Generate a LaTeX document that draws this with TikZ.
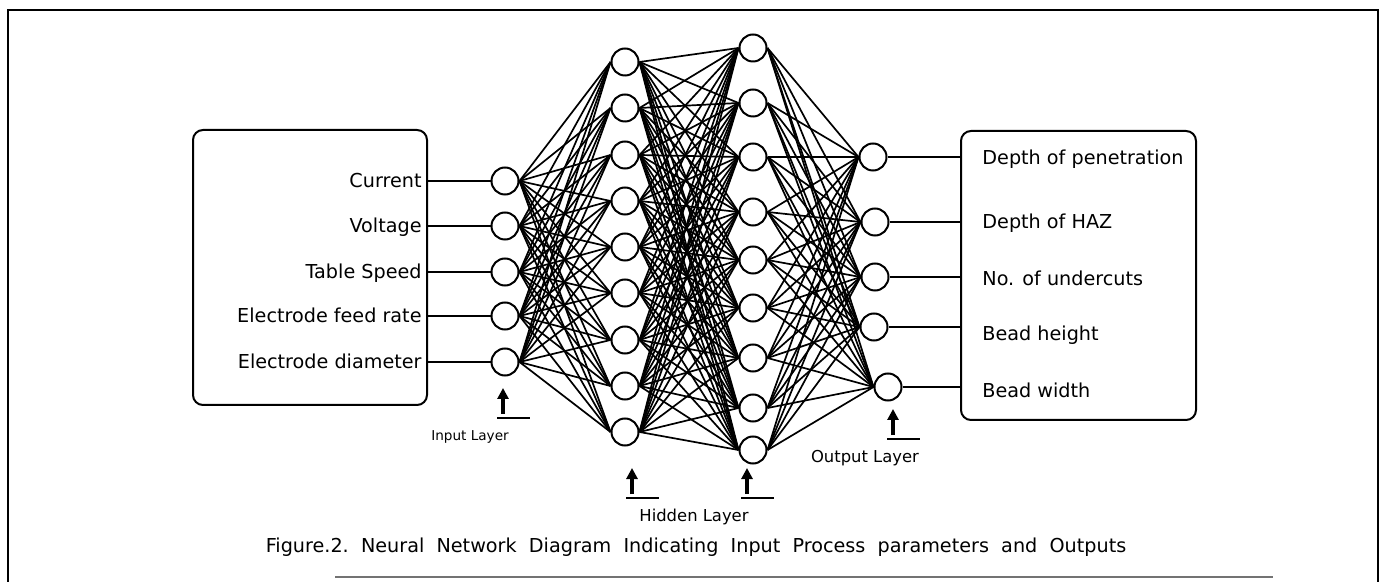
\documentclass[tikz,border=0pt]{standalone}
\usepackage{fontspec}
\setmainfont{DejaVu Sans}
\usetikzlibrary{arrows.meta}

\tikzset{
  neuron/.style={circle, draw, line width=1pt, fill=white, minimum size=13.5pt, inner sep=0pt},
  link/.style={line width=0.85pt},
  databox/.style={draw, line width=1pt, rounded corners=5pt},
  boxtext/.style={inner sep=0pt, font=\fontsize{9.6}{11}\selectfont},
  layertext/.style={inner sep=0pt, font=\fontsize{8.2}{10}\selectfont},
  layerarrow/.style={line width=1.6pt, -{Triangle[length=5.5pt,width=5.5pt]}},
}

\begin{document}
\begin{tikzpicture}[x=0.5pt,y=-0.5pt]
    \useasboundingbox (0,0) rectangle (1386,582);
    %% outer frame
    \draw[line width=1.2pt] (8,582) -- (8,10) -- (1378,10) -- (1378,582);
    \draw[black!55, line width=0.8pt] (335,577) -- (1273,577);
    %% input and output boxes
    \node[databox, minimum width=117pt, minimum height=137.5pt] (inbox) at (310,267.5) {};
    \node[databox, minimum width=117.5pt, minimum height=144.5pt] (outbox) at (1078.5,275.5) {};
    %% layers
    \foreach \y [count=\i] in {181,226,272,316,362}
        \node[neuron] (in\i) at (505,\y) {};
    \foreach \y [count=\i] in {62,108,155,201,247,293,340,386,432}
        \node[neuron] (ha\i) at (625,\y) {};
    \foreach \y [count=\i] in {48,103,157,212,260,308,358,408,450}
        \node[neuron] (hb\i) at (753,\y) {};
    \foreach \x/\y [count=\i] in {873/157,875/222,875/277,874/327,888/387}
        \node[neuron] (out\i) at (\x,\y) {};
    %% weights
    \foreach \i in {1,...,5}
        \foreach \j in {1,...,9}
            \draw[link] (in\i.east) -- (ha\j.west);
    \foreach \i in {1,...,9}
        \foreach \j in {1,...,9}
            \draw[link] (ha\i.east) -- (hb\j.west);
    \foreach \i in {1,...,9}
        \foreach \j in {1,...,5}
            \draw[link] (hb\i.east) -- (out\j.west);
    %% process parameters
    \foreach \y/\lab [count=\i] in {181/Current,226/Voltage,272/Table Speed,316/Electrode feed rate,362/Electrode diameter}{
        \node[boxtext, anchor=base east] (inlab\i) at (422,\y+7) {\lab};
        \draw[line width=1pt] (inbox.east |- in\i) -- (in\i.west);
    }
    %% outputs
    \foreach \y/\lab [count=\i] in {158/Depth of penetration,222/Depth of HAZ,279/No. of undercuts,334/Bead height,391/Bead width}
        \node[boxtext, anchor=base west] (outlab\i) at (982,\y+7) {\lab};
    \foreach \i in {1,...,5}
        \draw[line width=1pt] (out\i.east) -- (outbox.west |- out\i);
    %% layer marks
    \foreach \x/\y in {503/418,632/498,747/498,893/439}{
        \draw[layerarrow] (\x,\y-4) -- (\x,\y-30);
        \draw[line width=0.9pt] (\x-6,\y) -- (\x+27,\y);
    }
    \node[layertext, font=\fontsize{6.8}{8}\selectfont] (inlayer) at (470,437) {Input Layer};
    \node[layertext] (hidlayer) at (694,517) {Hidden Layer};
    \node[layertext] (outlayer) at (865,458) {Output Layer};
    %% caption
    \node[inner sep=0pt, font=\fontsize{9.6}{11}\selectfont] (caption) at (696,547)
        {Figure.2.\ \ Neural\ \ Network\ \ Diagram\ \ Indicating\ \ Input\ \ Process\ \ parameters\ \ and\ \ Outputs};
\end{tikzpicture}
\end{document}
